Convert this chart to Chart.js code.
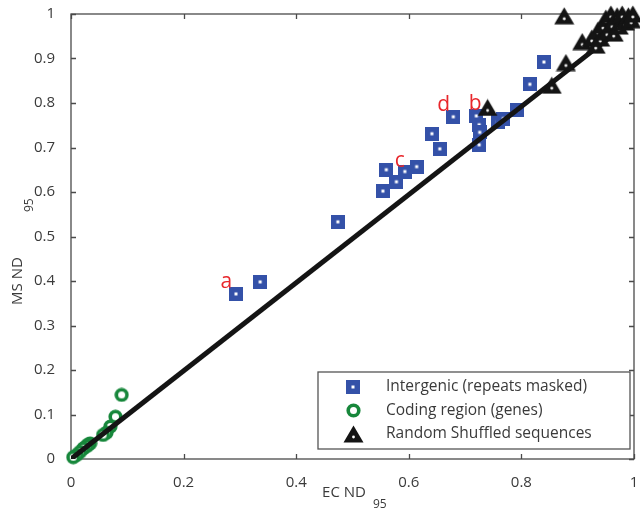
<!DOCTYPE html>
<html>
<head>
<meta charset="utf-8">
<script src="https://cdn.jsdelivr.net/npm/chart.js@4.4.1/dist/chart.umd.min.js"></script>
<style>
    html, body { margin: 0; padding: 0; background: #fff; }
    #wrap { width: 640px; height: 511px; }
</style>
</head>
<body>
<div id="wrap"><canvas id="chart" width="640" height="511"></canvas></div>
<script>
// Eksen işaretleri
const xTicks = [0, 0.2, 0.4, 0.6, 0.8, 1];
const yTicks = [0, 0.1, 0.2, 0.3, 0.4, 0.5, 0.6, 0.7, 0.8, 0.9, 1];

// Intergenic (mavi kareler)
const intergenicX = [0.293, 0.336, 0.474, 0.554, 0.560, 0.578, 0.593, 0.614, 0.641, 0.655,
                     0.679, 0.720, 0.725, 0.726, 0.725, 0.758, 0.768, 0.792, 0.815, 0.840];
const intergenicY = [0.371, 0.398, 0.533, 0.602, 0.650, 0.623, 0.646, 0.657, 0.731, 0.697,
                     0.769, 0.771, 0.751, 0.734, 0.706, 0.758, 0.765, 0.784, 0.842, 0.892];

// Coding region (yeşil halkalar)
const codingX = [0.090, 0.079, 0.070, 0.063, 0.057, 0.034, 0.030, 0.028, 0.022, 0.016, 0.010, 0.004];
const codingY = [0.144, 0.095, 0.073, 0.059, 0.054, 0.035, 0.032, 0.029, 0.024, 0.016, 0.009, 0.004];

// Random shuffled (siyah üçgenler)
const shuffledX = [0.740, 0.854, 0.879, 0.876, 0.908, 0.925, 0.932, 0.936, 0.940, 0.945, 0.950,
                   0.952, 0.959, 0.961, 0.964, 0.970, 0.973, 0.979, 0.984, 0.990, 0.995, 0.998];
const shuffledY = [0.790, 0.840, 0.891, 0.996, 0.938, 0.946, 0.930, 0.964, 0.946, 0.975, 0.991,
                   0.960, 1.000, 0.978, 0.957, 0.996, 0.973, 1.000, 0.982, 0.996, 0.987, 1.000];

// Regresyon doğrusu
const fitX = [0, 1];
const fitY = [0, 0.99];

// Kırmızı harf etiketleri
const noteLabels = ["a", "b", "c", "d"];
const noteX = [0.276, 0.718, 0.584, 0.662];
const noteY = [0.397, 0.797, 0.670, 0.795];

const legendLabels = [
    "Intergenic (repeats masked)",
    "Coding region (genes)",
    "Random Shuffled sequences"
];

const BLUE = "#3451a8";
const GREEN = "#17873b";
const BLACK = "#141414";
const AXIS = "#4a4a4a";
const TEXT = "#3a3a3a";
const FONT = "'Open Sans', sans-serif";

function toPoints(xs, ys) {
    return xs.map((x, i) => ({ x, y: ys[i] }));
}

function makeSquare() {
    const c = document.createElement("canvas");
    c.width = 14; c.height = 14;
    const g = c.getContext("2d");
    g.fillStyle = BLUE;
    g.fillRect(0, 0, 14, 14);
    g.fillStyle = "#fff";
    g.fillRect(5.5, 5.5, 3, 3);
    return c;
}

function makeRing() {
    const c = document.createElement("canvas");
    c.width = 15; c.height = 15;
    const g = c.getContext("2d");
    g.beginPath();
    g.arc(7.5, 7.5, 5.3, 0, Math.PI * 2);
    g.fillStyle = "#fff";
    g.fill();
    g.lineWidth = 3.6;
    g.strokeStyle = GREEN;
    g.stroke();
    return c;
}

function makeTriangle() {
    const c = document.createElement("canvas");
    c.width = 21; c.height = 18;
    const g = c.getContext("2d");
    g.beginPath();
    g.moveTo(10.5, 0.5);
    g.lineTo(20.5, 17.5);
    g.lineTo(0.5, 17.5);
    g.closePath();
    g.fillStyle = BLACK;
    g.fill();
    g.beginPath();
    g.arc(10.5, 12, 1.4, 0, Math.PI * 2);
    g.fillStyle = "#fff";
    g.fill();
    return c;
}

const squareMark = makeSquare();
const ringMark = makeRing();
const triMark = makeTriangle();

// alt indisli eksen başlığı; (x, y) ana metnin merkezi
function drawSubTitle(ctx, main, sub, x, y, rotate, gap) {
    ctx.save();
    ctx.translate(x, y);
    if (rotate) ctx.rotate(-Math.PI / 2);
    ctx.fillStyle = TEXT;
    ctx.textBaseline = "middle";
    ctx.textAlign = "left";
    ctx.font = `15px ${FONT}`;
    const w1 = ctx.measureText(main).width;
    ctx.fillText(main, -w1 / 2, 0);
    ctx.font = `12px ${FONT}`;
    ctx.fillText(sub, w1 / 2 + gap, 12);
    ctx.restore();
}

const framePlugin = {
    id: "frame",
    beforeDatasetsDraw(chart) {
        const { ctx, chartArea: a, scales } = chart;
        const len = 5;
        ctx.save();
        ctx.strokeStyle = AXIS;
        ctx.lineWidth = 1.3;
        ctx.strokeRect(a.left, a.top, a.right - a.left, a.bottom - a.top);
        ctx.beginPath();
        xTicks.forEach((v) => {
            const px = Math.round(scales.x.getPixelForValue(v)) + 0.5;
            ctx.moveTo(px, a.bottom); ctx.lineTo(px, a.bottom - len);
            ctx.moveTo(px, a.top); ctx.lineTo(px, a.top + len);
        });
        yTicks.forEach((v) => {
            const py = Math.round(scales.y.getPixelForValue(v)) + 0.5;
            ctx.moveTo(a.left, py); ctx.lineTo(a.left + len, py);
            ctx.moveTo(a.right, py); ctx.lineTo(a.right - len, py);
        });
        ctx.stroke();
        ctx.restore();
    },
    afterDraw(chart) {
        const { ctx, chartArea: a, scales } = chart;
        ctx.save();

        // harf etiketleri
        ctx.fillStyle = "#e8262b";
        ctx.font = `21px ${FONT}`;
        ctx.textAlign = "center";
        ctx.textBaseline = "middle";
        noteLabels.forEach((t, i) => {
            ctx.fillText(t, scales.x.getPixelForValue(noteX[i]), scales.y.getPixelForValue(noteY[i]));
        });

        // eksen başlıkları
        drawSubTitle(ctx, "EC ND", "95", 344, 493, false, 7);
        drawSubTitle(ctx, "MS ND", "95", 18, 281, true, 45);

        // lejant kutusu
        const bw = 312, bh = 77;
        const bx = a.right - 4 - bw, by = a.bottom - 10 - bh;
        ctx.fillStyle = "#fff";
        ctx.fillRect(bx, by, bw, bh);
        ctx.strokeStyle = "#555";
        ctx.lineWidth = 1.3;
        ctx.strokeRect(bx, by, bw, bh);
        const marks = [squareMark, ringMark, triMark];
        ctx.font = `15.5px ${FONT}`;
        ctx.fillStyle = TEXT;
        ctx.textAlign = "left";
        legendLabels.forEach((t, i) => {
            const cy = by + 15 + i * 23.5;
            const m = marks[i];
            ctx.drawImage(m, Math.round(bx + 35 - m.width / 2), Math.round(cy - m.height / 2));
            ctx.fillText(t, bx + 68, cy);
        });
        ctx.restore();
    }
};

const ctx = document.getElementById("chart").getContext("2d");
new Chart(ctx, {
    type: "scatter",
    data: {
        datasets: [
            {
                label: legendLabels[0],
                data: toPoints(intergenicX, intergenicY),
                pointStyle: squareMark,
                order: 4,
                clip: false
            },
            {
                label: legendLabels[1],
                data: toPoints(codingX, codingY),
                pointStyle: ringMark,
                order: 3,
                clip: false
            },
            {
                label: "fit",
                data: toPoints(fitX, fitY),
                showLine: true,
                borderColor: BLACK,
                borderWidth: 5,
                pointRadius: 0,
                order: 2
            },
            {
                label: legendLabels[2],
                data: toPoints(shuffledX, shuffledY),
                pointStyle: triMark,
                order: 1,
                clip: false
            }
        ]
    },
    options: {
        responsive: false,
        animation: false,
        events: [],
        layout: { padding: { left: 0, top: 14, right: 6, bottom: 0 } },
        plugins: {
            legend: { display: false },
            tooltip: { enabled: false }
        },
        scales: {
            x: {
                type: "linear",
                min: 0,
                max: 1,
                afterBuildTicks: (s) => { s.ticks = xTicks.map((v) => ({ value: v })); },
                afterFit: (s) => { s.height = 52; s.paddingLeft = 0; s.paddingRight = 0; },
                ticks: {
                    callback: (v) => String(+Number(v).toFixed(1)),
                    padding: 7,
                    color: TEXT,
                    maxRotation: 0,
                    font: { family: FONT, size: 15 }
                },
                grid: { display: false },
                border: { display: false }
            },
            y: {
                type: "linear",
                min: 0,
                max: 1,
                afterBuildTicks: (s) => { s.ticks = yTicks.map((v) => ({ value: v })); },
                afterFit: (s) => { s.width = 71; s.paddingTop = 0; s.paddingBottom = 0; },
                ticks: {
                    callback: (v) => String(+Number(v).toFixed(1)),
                    padding: 8,
                    color: TEXT,
                    font: { family: FONT, size: 15 }
                },
                grid: { display: false },
                border: { display: false }
            }
        }
    },
    plugins: [framePlugin]
});
</script>
</body>
</html>
